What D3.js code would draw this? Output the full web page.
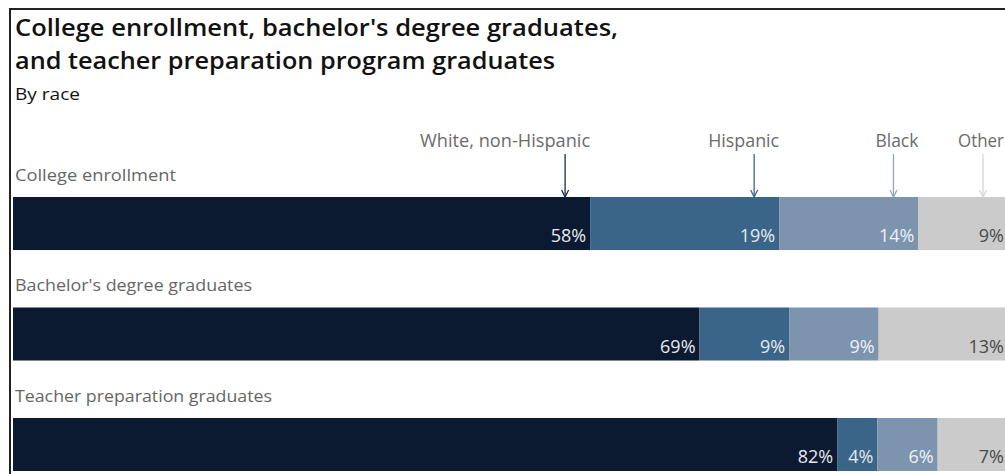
<!DOCTYPE html>
<html>
<head>
<meta charset="utf-8">
<script src="https://cdn.jsdelivr.net/npm/d3@7"></script>
<style>
  html, body { margin: 0; padding: 0; background: #fff; }
  svg { display: block; }
  text { font-family: "Open Sans", "Noto Sans", sans-serif; }
</style>
</head>
<body>
<svg id="chart" width="1005" height="474"></svg>
<script>
// ---- data ----
const categories = ["College enrollment", "Bachelor's degree graduates", "Teacher preparation graduates"];
const groups = ["White, non-Hispanic", "Hispanic", "Black", "Other"];
const white    = [58, 69, 82];
const hispanic = [19, 9, 4];
const black    = [14, 9, 6];
const other    = [9, 13, 7];
const titleLines = ["College enrollment, bachelor's degree graduates,", "and teacher preparation program graduates"];
const subtitle = "By race";

const colors = ["#0b1a30", "#3b6588", "#7c94ae", "#cbcbcb"];
const arrowColors = ["#1d2c44", "#3b6588", "#8fa6bf", "#d6d6d6"];
const labelColors = ["#e6e9ee", "#e6e9ee", "#eef1f5", "#4a4a4a"];

const svg = d3.select("#chart");
const W = 1005;

// frame
svg.append("line").attr("x1", 10).attr("x2", W).attr("y1", 9).attr("y2", 9)
  .attr("stroke", "#222").attr("stroke-width", 2);
svg.append("line").attr("x1", 10).attr("x2", 10).attr("y1", 8).attr("y2", 474)
  .attr("stroke", "#222").attr("stroke-width", 2);

// title
svg.append("text").attr("x", 15).attr("y", 36).attr("font-size", 23).attr("font-weight", 600)
  .attr("fill", "#111").attr("textLength", 603).attr("lengthAdjust", "spacingAndGlyphs").text(titleLines[0]);
svg.append("text").attr("x", 15).attr("y", 69).attr("font-size", 23).attr("font-weight", 600)
  .attr("fill", "#111").attr("textLength", 540).attr("lengthAdjust", "spacingAndGlyphs").text(titleLines[1]);
svg.append("text").attr("x", 15).attr("y", 100).attr("font-size", 17)
  .attr("fill", "#111").attr("textLength", 65).attr("lengthAdjust", "spacingAndGlyphs").text(subtitle);

// rows
const rows = categories.map((c, i) => {
  const vals = [white[i], hispanic[i], black[i], other[i]];
  const total = d3.sum(vals);
  let cum = 0;
  const segs = vals.map((v, k) => {
    const s = { cat: c, key: groups[k], k, v, x0: cum / total * 100, x1: (cum + v) / total * 100 };
    cum += v;
    return s;
  });
  return { cat: c, segs };
});

const x = d3.scaleLinear().domain([0, 100]).range([13, 1008]);
const y = d3.scaleBand().domain(categories).range([197, 471]).paddingInner(0.52).paddingOuter(0);

const labelWidths = [161, 237, 257];

const g = svg.selectAll("g.row").data(rows).join("g").attr("class", "row");

g.append("text")
  .attr("x", 15)
  .attr("y", d => y(d.cat) - 16)
  .attr("font-size", 17)
  .attr("fill", "#666")
  .attr("textLength", (d, i) => labelWidths[i])
  .attr("lengthAdjust", "spacingAndGlyphs")
  .text(d => d.cat);

g.selectAll("rect").data(d => d.segs).join("rect")
  .attr("x", s => x(s.x0))
  .attr("y", s => y(s.cat))
  .attr("width", s => x(s.x1) - x(s.x0))
  .attr("height", y.bandwidth())
  .attr("fill", s => colors[s.k]);

g.selectAll("text.pct").data(d => d.segs).join("text")
  .attr("class", "pct")
  .attr("x", s => x(s.x1) - 4)
  .attr("y", s => y(s.cat) + y.bandwidth() - 8)
  .attr("text-anchor", "end")
  .attr("font-size", 18)
  .attr("fill", s => labelColors[s.k])
  .text(s => s.v + "%");

// legend (above first bar)
const first = rows[0];
const barTop = y(first.cat);
const legendWidths = [170, 71, 43, 46];
const lg = svg.append("g");
lg.selectAll("text").data(first.segs).join("text")
  .attr("x", s => Math.min(x(s.x1), W - 1))
  .attr("y", 147)
  .attr("text-anchor", "end")
  .attr("font-size", 18)
  .attr("fill", "#6b6b6b")
  .attr("textLength", s => legendWidths[s.k])
  .attr("lengthAdjust", "spacingAndGlyphs")
  .text(s => s.key);

const arrowX = s => x(s.x1) - 25;
lg.selectAll("line").data(first.segs).join("line")
  .attr("x1", arrowX).attr("x2", arrowX)
  .attr("y1", 154).attr("y2", barTop - 1)
  .attr("stroke", s => arrowColors[s.k]).attr("stroke-width", 1.3);
lg.selectAll("path").data(first.segs).join("path")
  .attr("d", s => `M${arrowX(s) - 3.5},${barTop - 7} L${arrowX(s)},${barTop} L${arrowX(s) + 3.5},${barTop - 7}`)
  .attr("fill", "none")
  .attr("stroke", s => arrowColors[s.k]).attr("stroke-width", 1.3);
</script>
</body>
</html>
